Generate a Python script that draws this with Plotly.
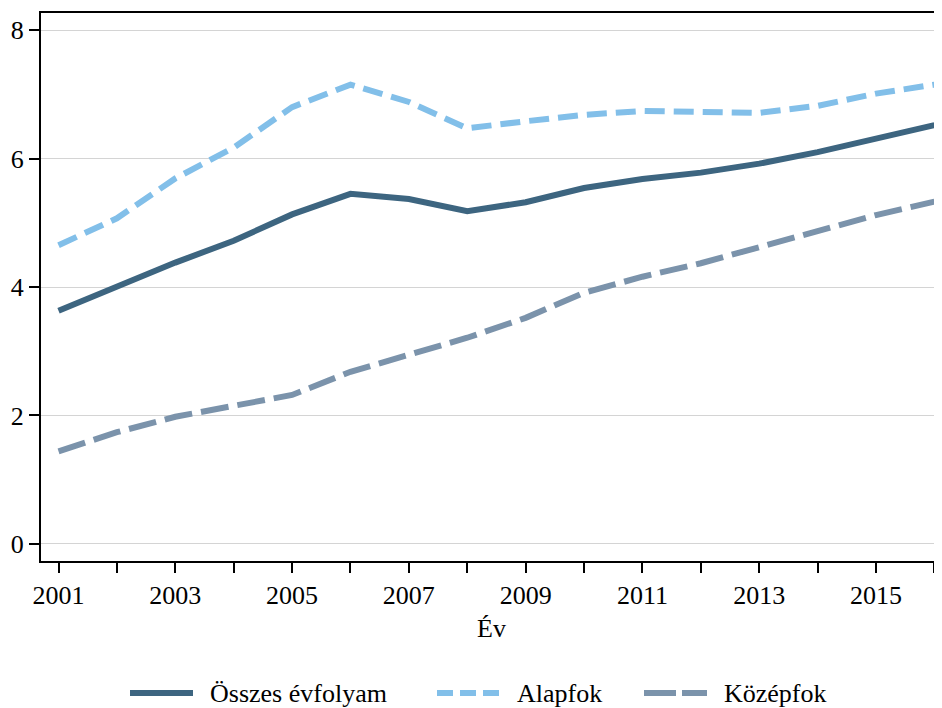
import plotly.graph_objects as go

# years on the x axis
years = list(range(2001, 2017))

# values
osszes = [3.63, 4.00, 4.38, 4.72, 5.13, 5.45, 5.37, 5.18, 5.32, 5.54, 5.68, 5.78, 5.92, 6.10, 6.32, 6.52]
alapfok = [4.65, 5.07, 5.69, 6.17, 6.80, 7.15, 6.88, 6.47, 6.58, 6.68, 6.74, 6.72, 6.71, 6.82, 7.01, 7.15]
kozepfok = [1.44, 1.74, 1.98, 2.16, 2.32, 2.68, 2.94, 3.21, 3.52, 3.91, 4.16, 4.37, 4.62, 4.86, 5.12, 5.33]

series_names = ["Összes évfolyam", "Alapfok", "Középfok"]
colors = ["#3d6580", "#82bfe9", "#7b93ab"]
dashes = ["solid", "20px,9px", "28px,9px"]
legend_dashes = ["solid", "16px,7px", "32px,6px"]
x_ticks = list(range(2001, 2017, 2))
y_ticks = [0, 2, 4, 6, 8]

font_name = "Liberation Serif"
fsize = 26

fig = go.Figure()
for name, vals, col, dash in zip(series_names, [osszes, alapfok, kozepfok], colors, dashes):
    fig.add_trace(go.Scatter(x=years, y=vals, name=name, mode="lines",
                             line=dict(color=col, width=6, dash=dash)))

fig.update_xaxes(range=[2000.70, 2016.13], tickvals=years,
                 ticktext=[str(y) if y in x_ticks else "" for y in years],
                 ticks="outside", ticklen=10, tickwidth=1.5, tickcolor="black",
                 showline=True, linecolor="black", linewidth=2, mirror=True,
                 showgrid=False, zeroline=False, automargin=False,
                 title=dict(text="Év", standoff=10, font=dict(size=fsize)),
                 tickfont=dict(size=fsize))
fig.update_yaxes(range=[-0.265, 8.265], tickvals=y_ticks,
                 ticks="outside", ticklen=10, tickwidth=1.5, tickcolor="black",
                 showline=True, linecolor="black", linewidth=2,
                 showgrid=True, gridcolor="#d4d4d4", gridwidth=1, zeroline=False,
                 automargin=False, tickfont=dict(size=fsize))

# legend drawn by hand so the sample lines can be as long as in the reference
# (positions in page pixels; the plot area spans x 41..942, y 13..561)
left, width, bottom, height = 41, 901, 561, 548
legend_lines = [(130, 193), (437, 500), (644, 707)]
legend_y = 693
for (x0, x1), name, col, dash in zip(legend_lines, series_names, colors, legend_dashes):
    fig.add_shape(type="line", xref="paper", yref="paper",
                  x0=(x0 - left) / width, x1=(x1 - left) / width,
                  y0=(bottom - legend_y) / height, y1=(bottom - legend_y) / height,
                  line=dict(color=col, width=6, dash=dash))
    fig.add_annotation(xref="paper", yref="paper", x=(x1 + 15 - left) / width,
                       y=(bottom - legend_y) / height, text=name, showarrow=False,
                       xanchor="left", yanchor="middle", font=dict(size=fsize))

# the page body adds an 8px offset, so the figure is 8px smaller each way
fig.update_layout(
    width=934, height=700,
    margin=dict(l=33, r=0, t=5, b=147),
    paper_bgcolor="white", plot_bgcolor="white",
    font=dict(family=font_name, size=fsize, color="black"),
    showlegend=False,
)

fig.write_html("out.html")
